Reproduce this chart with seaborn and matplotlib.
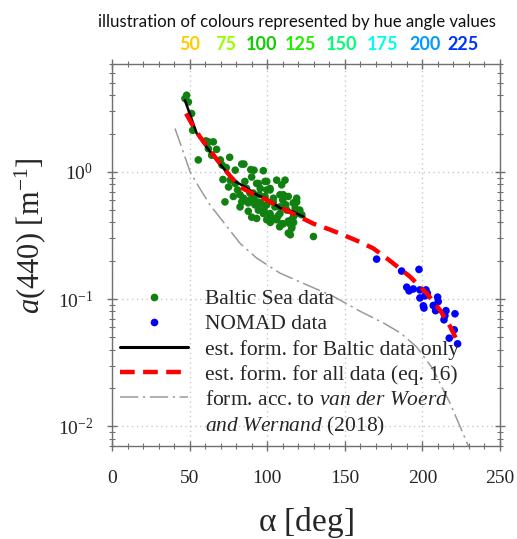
import matplotlib
matplotlib.use("Agg")
import matplotlib.pyplot as plt
import numpy as np
import pandas as pd
import seaborn as sns
from matplotlib.lines import Line2D
from matplotlib.ticker import LogLocator, MultipleLocator, NullFormatter, LogFormatterSciNotation

# --- measured data -------------------------------------------------------
baltic_alpha = [48.1, 47.0, 49.2, 51.3, 52.0, 55.6, 60.5, 62.1, 65.3, 62.1, 67.4, 64.2,
                69.8, 75.8, 70.9, 73.6, 79.4, 83.6, 85.0, 89.4, 91.5, 97.5, 71.5, 76.2,
                75.1, 79.4, 80.9, 90.0, 85.6, 86.7, 94.3, 95.5, 82.5, 84.7, 88.9, 91.0,
                94.9, 98.6, 101.8, 99.7, 106.1, 111.5, 109.3, 110.4, 113.6, 119.0, 117.9,
                72.8, 87.8, 93.2, 99.7, 103.9, 108.2, 87.8, 94.3, 97.5, 93.2, 101.8, 103.9,
                108.2, 112.6, 109.3, 113.6, 115.8, 114.9, 120.2, 122.3, 129.8, 116.8, 99.7,
                90.0, 82.5, 78.2, 106.1, 115.8, 108.2, 119.0, 116.8, 120.0, 114.7, 115.8,
                113.6, 110.4, 103.9, 101.8, 92.1, 95.4, 99.7, 101.8, 98.6, 93.2, 91.0,
                85.7, 83.6, 98.0, 105.0, 107.0, 96.0, 89.0, 112.0, 118.0, 121.0, 110.0,
                104.0, 102.0, 108.0, 117.0]
baltic_a = [4.00, 3.77, 3.54, 2.87, 2.12, 1.24, 1.75, 1.72, 1.72, 1.52, 1.50, 1.35,
            1.24, 1.30, 1.13, 1.08, 1.03, 1.15, 1.15, 1.04, 1.03, 1.02, 0.87, 0.86,
            0.76, 0.81, 0.72, 0.91, 0.84, 0.74, 0.81, 0.74, 0.66, 0.62, 0.68, 0.62,
            0.66, 0.64, 0.72, 0.84, 0.86, 0.86, 0.79, 0.66, 0.64, 0.62, 0.57,
            0.58, 0.57, 0.58, 0.55, 0.58, 0.53, 0.49, 0.50, 0.47, 0.43, 0.46, 0.42,
            0.47, 0.50, 0.39, 0.41, 0.37, 0.32, 0.47, 0.46, 0.31, 0.44, 0.42,
            0.44, 0.53, 0.64, 0.42, 0.42, 0.66, 0.58, 0.57, 0.48, 0.39, 0.36,
            0.33, 0.39, 0.43, 0.47, 0.55, 0.57, 0.72, 0.74, 0.84, 0.81, 0.68,
            0.60, 0.58, 0.50, 0.53, 0.45, 0.56, 0.60, 0.55, 0.52, 0.50, 0.60,
            0.62, 0.40, 0.37, 0.40]

nomad_alpha = [170.5, 186.6, 197.8, 189.9, 191.4, 194.1, 198.4, 202.3, 203.2, 201.7,
               198.4, 200.6, 201.0, 209.8, 210.2, 207.0, 208.5, 215.2, 221.0, 214.5,
               213.9, 220.5, 217.3, 222.7]
nomad_a = [0.206, 0.166, 0.171, 0.124, 0.116, 0.120, 0.118, 0.118, 0.111, 0.106,
           0.102, 0.0885, 0.085, 0.1035, 0.0955, 0.089, 0.081, 0.081, 0.0766, 0.074,
           0.0687, 0.0573, 0.0493, 0.0445]

# fitted formula, Baltic data only
fit_baltic_alpha = [47.0, 54.6, 60.0, 66.4, 72.0, 78.0, 85.0, 93.2, 100.0, 108.2, 116.0, 124.0]
fit_baltic_a = [3.65, 2.00, 1.62, 1.28, 1.06, 0.86, 0.77, 0.66, 0.61, 0.52, 0.49, 0.44]

# fitted formula, all data (eq. 16)
fit_all_alpha = [47.7, 52.0, 56.7, 62.0, 69.6, 76.0, 82.5, 90.0, 99.7, 108.0, 116.6,
                 130.0, 140.0, 148.8, 160.0, 168.4, 179.1, 192.0, 202.8, 211.3, 217.8, 223.1]
fit_all_a = [2.87, 2.32, 1.88, 1.54, 1.16, 0.93, 0.76, 0.68, 0.60, 0.53, 0.47,
             0.39, 0.353, 0.32, 0.28, 0.25, 0.20, 0.15, 0.111, 0.082, 0.061, 0.045]

# formula of van der Woerd and Wernand (2018)
vdw_alpha = [40.6, 45.0, 50.3, 56.0, 63.1, 72.0, 82.5, 93.2, 108.2, 125.0, 142.6, 160.0,
             174.8, 186.0, 196.3, 207.0, 212.0, 217.8, 224.2, 229.6]
vdw_a = [2.19, 1.54, 1.00, 0.76, 0.55, 0.40, 0.274, 0.210, 0.16, 0.13, 0.105, 0.080,
         0.065, 0.054, 0.042, 0.028, 0.021, 0.0152, 0.010, 0.007]

hue_values = ["50", "75", "100", "125", "150", "175", "200", "225"]
hue_colors = ["#FFCC00", "#99FF00", "#11CC00", "#22EE00", "#00FF77", "#00FFEE", "#0099FF", "#0033FF"]
hue_xpos = [190, 226, 262, 300, 342, 383, 425, 463]

legend_labels = ["Baltic Sea data", "NOMAD data", "est. form. for Baltic data only",
                 "est. form. for all data (eq. 16)",
                 r"form. acc. to $\mathit{van\ der\ Woerd}$",
                 r"$\mathit{and\ Wernand}$ (2018)"]

# --- styling -------------------------------------------------------------
sns.set_style("ticks")
plt.rcParams["font.family"] = ["Liberation Serif", "DejaVu Serif"]
plt.rcParams["mathtext.fontset"] = "custom"
plt.rcParams["mathtext.rm"] = "Liberation Serif"
plt.rcParams["mathtext.it"] = "Liberation Serif:italic"
plt.rcParams["mathtext.bf"] = "Liberation Serif:bold"
plt.rcParams["axes.unicode_minus"] = False

W, H = 517, 539
fig = plt.figure(figsize=(W / 100, H / 100), dpi=100)
ax = fig.add_axes([112 / W, 1 - 446 / H, 388 / W, (446 - 63.5) / H])

baltic = pd.DataFrame({"alpha": baltic_alpha, "a440": baltic_a})
nomad = pd.DataFrame({"alpha": nomad_alpha, "a440": nomad_a})
fb = pd.DataFrame({"alpha": fit_baltic_alpha, "a440": fit_baltic_a})
fa = pd.DataFrame({"alpha": fit_all_alpha, "a440": fit_all_a})
vdw = pd.DataFrame({"alpha": vdw_alpha, "a440": vdw_a})

ax.grid(True, which="major", color="#c8c8c8", linestyle=(0, (1, 2.5)), linewidth=1.0)
ax.set_axisbelow(True)

sns.lineplot(data=vdw, x="alpha", y="a440", ax=ax, color="#9a9a9a", linewidth=1.1,
             sort=False, estimator=None, zorder=2)
ax.lines[-1].set_dashes((12, 3, 1.5, 3))
sns.scatterplot(data=baltic, x="alpha", y="a440", ax=ax, color="#108010", s=30,
                edgecolor="none", zorder=3)
sns.scatterplot(data=nomad, x="alpha", y="a440", ax=ax, color="#0000FF", s=30,
                edgecolor="none", zorder=3)
sns.lineplot(data=fb, x="alpha", y="a440", ax=ax, color="black", linewidth=1.8,
             sort=False, estimator=None, zorder=4)
sns.lineplot(data=fa, x="alpha", y="a440", ax=ax, color="#FF0000", linewidth=3.2,
             sort=False, estimator=None, zorder=5)
ax.lines[-1].set_dashes((3.3, 1.9))

ax.set_yscale("log")
ax.set_xlim(0, 250)
ax.set_ylim(0.007, 7.1)
ax.xaxis.set_major_locator(MultipleLocator(50))
ax.xaxis.set_minor_locator(MultipleLocator(10))
ax.yaxis.set_major_locator(LogLocator(base=10, numticks=10))
ax.yaxis.set_minor_locator(LogLocator(base=10, subs=np.arange(2, 10), numticks=20))
ax.yaxis.set_minor_formatter(NullFormatter())
ax.yaxis.set_major_formatter(LogFormatterSciNotation())

for side in ["left", "right", "top", "bottom"]:
    ax.spines[side].set_visible(True)
    ax.spines[side].set_color("#707070")
    ax.spines[side].set_linewidth(1.0)
ax.tick_params(which="both", direction="inout", color="#707070", top=True, right=True,
               labelsize=14)
ax.tick_params(which="major", length=7, width=1.0)
ax.tick_params(which="minor", length=4, width=0.8)
ax.tick_params(axis="x", which="major", pad=14)
ax.tick_params(axis="y", which="major", pad=10)

ax.set_xlabel(r"$\mathrm{\alpha}$ [deg]", fontsize=24, va="center")
ax.xaxis.set_label_coords(0.5, -(523 - 446) / 382.5)
ax.set_ylabel(r"$a$(440) [m$^{\mathrm{-1}}$]", fontsize=22, va="center")
ax.yaxis.set_label_coords((30 - 112) / 388, (446 - 236) / 382.5)

handles = [
    Line2D([], [], marker="o", linestyle="none", color="#108010", markersize=4.5),
    Line2D([], [], marker="o", linestyle="none", color="#0000FF", markersize=4.5),
    Line2D([], [], color="black", linewidth=2.2),
    Line2D([], [], color="#FF0000", linewidth=3.2, dashes=(3.3, 1.9)),
    Line2D([], [], color="#9a9a9a", linewidth=1.1, dashes=(12, 3, 1.5, 3)),
    Line2D([], [], color="none"),
]
leg = ax.legend(handles, legend_labels, loc="upper left",
                bbox_to_anchor=(120 / W, 1 - 289 / H), bbox_transform=fig.transFigure,
                frameon=False, fontsize=15.5, handlelength=3.15, handletextpad=0.8,
                labelspacing=0.24, borderpad=0, borderaxespad=0)

# header describing hue angle colours
fig.text(297 / W, 1 - 22 / H, "illustration of colours represented by hue angle values",
         ha="center", va="center", fontsize=12.1, family=["Lato", "DejaVu Sans"], color="#111111")
for txt, col, xp in zip(hue_values, hue_colors, hue_xpos):
    fig.text(xp / W, 1 - 45 / H, txt, ha="center", va="center", fontsize=13,
             fontweight="bold", family=["Lato", "DejaVu Sans"], color=col)

fig.savefig("out.png", dpi=100)
